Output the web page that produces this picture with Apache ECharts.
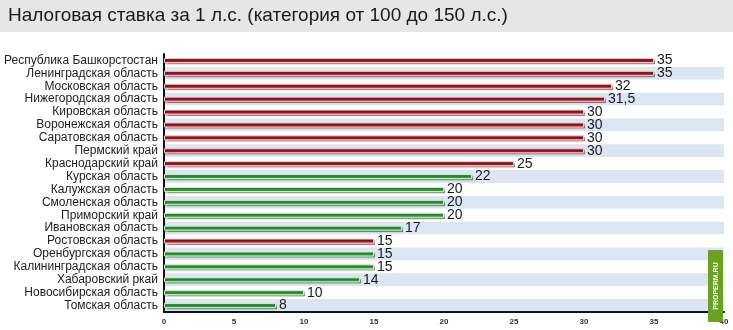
<!DOCTYPE html>
<html>
<head>
<meta charset="utf-8">
<script src="https://cdn.jsdelivr.net/npm/echarts@6/dist/echarts.min.js"></script>
<style>
html,body{margin:0;padding:0;background:#fff;}
#c{width:733px;height:330px;}
</style>
</head>
<body>
<div id="c"></div>
<script>
const title = 'Налоговая ставка за 1 л.с. (категория от 100 до 150 л.с.)';
const categories = [
  'Республика Башкорстостан','Ленинградская область','Московская область','Нижегородская область',
  'Кировская область','Воронежская область','Саратовская область','Пермский край',
  'Краснодарский край','Курская область','Калужская область','Смоленская область',
  'Приморский край','Ивановская область','Ростовская область','Оренбургская область',
  'Калининградская область','Хабаровский ркай','Новосибирская область','Томская область'
];
const values = [35,35,32,31.5,30,30,30,30,25,22,20,20,20,17,15,15,15,14,10,8];
const groups = ['r','r','r','r','r','r','r','r','r','g','g','g','g','g','r','g','g','g','g','g'];
const xTicks = [0,5,10,15,20,25,30,35,40];

const palette = {
  r: {color:'#a8161f', border:'#f3c9c9'},
  g: {color:'#2f9e36', border:'#c9efc6'}
};

const chart = echarts.init(document.getElementById('c'), null, {renderer:'canvas'});
chart.setOption({
  animation:false,
  backgroundColor:'#ffffff',
  graphic:[
    {type:'rect', shape:{x:0,y:0,width:733,height:32}, style:{fill:'#e6e6e6'}, z:-1},
    {type:'text', left:8, top:6, style:{text:title, font:'19px "Liberation Sans", Arial, sans-serif', fill:'#1a1a1a'}},
    {type:'rect', shape:{x:708,y:250,width:15,height:72,r:1}, style:{fill:'#6aa121'}, z:10},
    {type:'text', x:716, y:286, rotation:Math.PI/2, z:11,
      style:{text:'PROPERM.RU', font:'bold 7px "Liberation Sans", Arial, sans-serif', fill:'#ffffff', align:'center', verticalAlign:'middle'}}
  ],
  grid:{left:164, right:9, top:54, bottom:18, containLabel:false},
  xAxis:{
    type:'value', min:xTicks[0], max:xTicks[xTicks.length-1], interval:5,
    axisLine:{show:true, lineStyle:{color:'#111', width:2}},
    axisTick:{show:false},
    splitLine:{show:false},
    axisLabel:{fontSize:8, fontWeight:'bold', color:'#333', margin:6, fontFamily:'"Liberation Sans", Arial, sans-serif'}
  },
  yAxis:{
    type:'category', data:categories, inverse:true,
    axisLine:{show:true, lineStyle:{color:'#111', width:2}},
    axisTick:{show:false},
    axisLabel:{interval:0, fontSize:12, color:'#222', margin:6, fontFamily:'"Liberation Sans", Arial, sans-serif'},
    splitArea:{show:true, interval:0, areaStyle:{color:['#ffffff','#dce6f2']}}
  },
  series:[{
    type:'bar',
    barWidth:5,
    data:values.map((v,i)=>({
      value:v,
      itemStyle:{
        color:palette[groups[i]].color,
        borderColor:palette[groups[i]].border,
        borderWidth:1,
        shadowColor:'rgba(0,0,0,0.3)',
        shadowOffsetX:1,
        shadowOffsetY:1.5,
        shadowBlur:1
      }
    })),
    label:{
      show:true, position:'right', distance:3,
      fontSize:14, color:'#1a1a1a', fontFamily:'"Liberation Sans", Arial, sans-serif',
      formatter:p=>String(p.value).replace('.',',')
    }
  }]
});
</script>
</body>
</html>
